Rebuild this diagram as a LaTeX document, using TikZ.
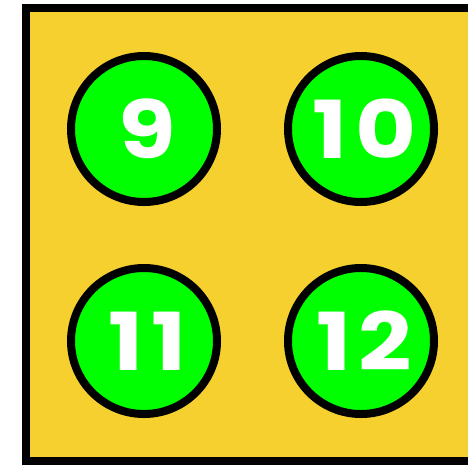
\documentclass[tikz,border=0pt]{standalone}
\usepackage{fontspec}
\setsansfont{Poppins}
\newfontfamily\padfont[FakeStretch=1.17, LetterSpace=9, UprightFont=*-Bold]{Poppins}
\usetikzlibrary{positioning}
\definecolor{tileyellow}{HTML}{F6D02E}
\definecolor{padgreen}{HTML}{00FF00}

\begin{document}
\begin{tikzpicture}[x=1pt, y=-1pt,
  tile/.style={draw=black, line width=8pt, fill=tileyellow},
  pad/.style={circle, draw=black, line width=8pt, fill=padgreen, minimum size=146pt,
              inner sep=0pt, text=white, font=\padfont\fontsize{80}{80}\selectfont,
              execute at begin node=\hspace{7pt}},
]
\useasboundingbox (0,0) rectangle (468,464);
\clip (0,0) rectangle (468,464);

% === Tile ===
\draw[tile] (26,8) rectangle (480,461);

% === Pads ===
\node[pad] (p9) at (144,129) {9};
\node[pad, right=63pt of p9] (p10) {10};
\node[pad, below=58pt of p9] (p11) {11};
\node[pad, right=63pt of p11] (p12) {12};

\end{tikzpicture}
\end{document}
